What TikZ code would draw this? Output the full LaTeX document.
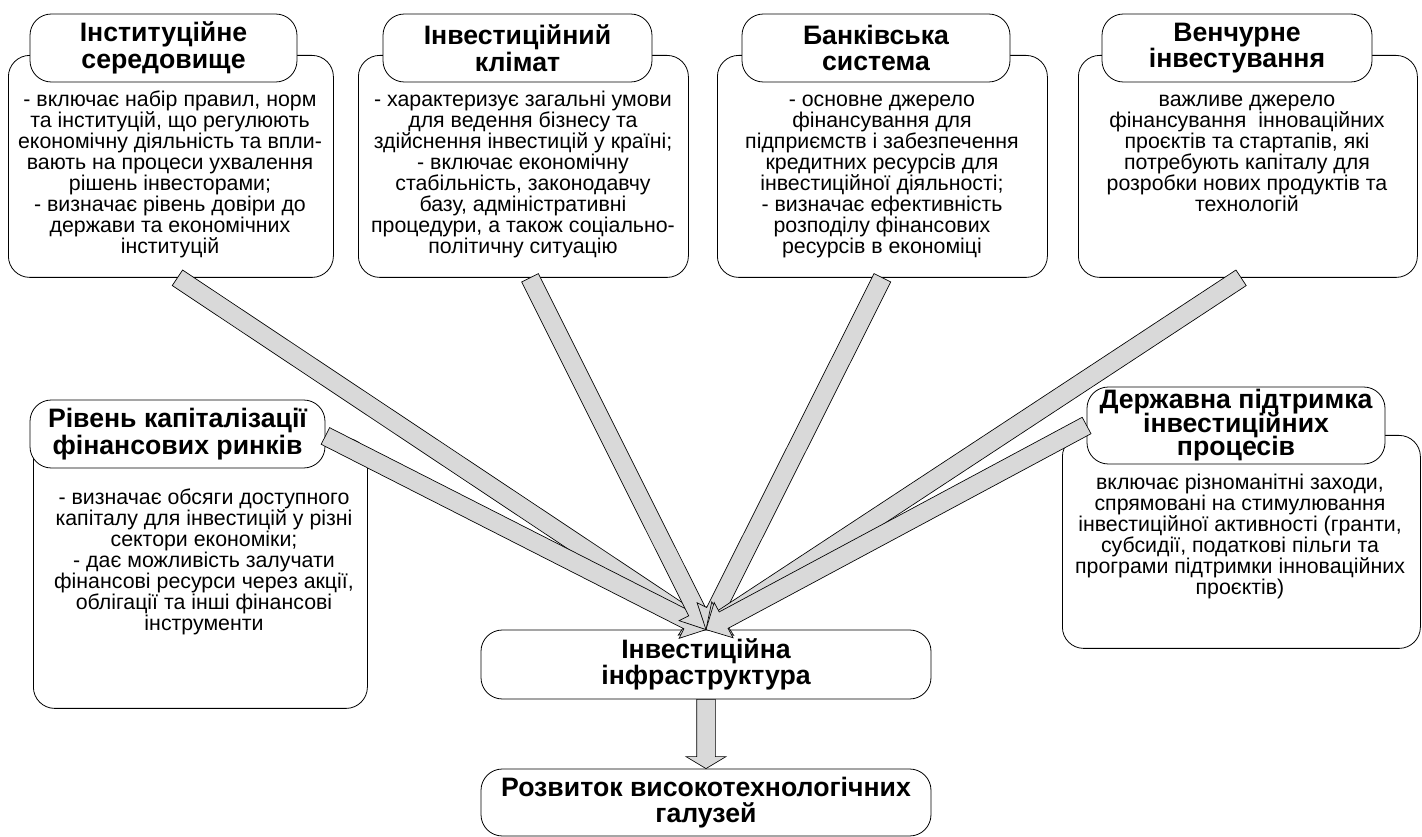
\documentclass[tikz,border=0pt]{standalone}
\usepackage{fontspec}
\setmainfont{Liberation Sans}
\usetikzlibrary{calc,positioning}
\newcommand\titlefont{\fontsize{20}{20}\selectfont\bfseries\lineskiplimit=-8pt\relax}
\newcommand\govfont{\fontsize{20}{17.6}\selectfont\bfseries\lineskiplimit=-8pt\relax}
\newcommand\bodyfont{\fontsize{16}{15.75}\selectfont\lineskiplimit=-8pt\relax}
\newcommand\lnstrut{\rule{0pt}{12pt}}
\tikzset{
  bodybox/.style={draw, rounded corners=16pt, line width=0.6pt, anchor=north west, inner sep=0pt},
  titlebox/.style={draw, fill=white, rounded corners=16pt, line width=0.6pt, inner sep=0pt, font=\titlefont, align=center},
  bodytext/.style={align=center, font=\bodyfont, anchor=north, inner sep=0pt},
  barrow/.style={draw, fill=gray!30, line width=0.5pt, line join=miter},
}
% block arrow: [head length]{name}{from}{to}
\newcommand\blockarrow[4][15pt]{%
  \coordinate (#2h) at ($(#4)!#1!(#3)$);
  \filldraw[barrow] ($(#3)!7pt!90:(#4)$) -- ($(#2h)!7pt!-90:(#3)$) -- ($(#2h)!15pt!-90:(#3)$) -- (#4)
    -- ($(#2h)!15pt!90:(#3)$) -- ($(#2h)!7pt!90:(#3)$) -- ($(#3)!7pt!-90:(#4)$) -- cycle;}
\begin{document}
\begin{tikzpicture}[x=0.75pt, y=-0.75pt]
\useasboundingbox (0,0) rectangle (1422,837);
% top row
\node[bodybox, minimum width=325*0.75pt, minimum height=222*0.75pt] (inst) at (8,55) {};
\node[titlebox, minimum width=267*0.75pt, minimum height=68*0.75pt] (instT) at (163.5,48) {Інституційне\\середовище};
\node[bodytext] (instX) at (170,90) {\lnstrut- включає набір правил, норм\\та інституцій, що регулюють\\економічну діяльність та впли-\\вають на процеси ухвалення\\рішень інвесторами;\\- визначає рівень довіри до\\держави та економічних\\інституцій};
\node[bodybox, minimum width=330*0.75pt, minimum height=222*0.75pt] (clim) at (358,55) {};
\node[titlebox, minimum width=269*0.75pt, minimum height=68*0.75pt] (climT) at (517.5,48) {Інвестиційний\\клімат};
\node[bodytext] (climX) at (523,90) {\lnstrut- характеризує загальні умови\\для ведення бізнесу та\\здійснення інвестицій у країні;\\- включає економічну\\стабільність, законодавчу\\базу, адміністративні\\процедури, а також соціально-\\політичну ситуацію};
\node[bodybox, minimum width=330*0.75pt, minimum height=222*0.75pt] (bank) at (717,55) {};
\node[titlebox, minimum width=268*0.75pt, minimum height=68*0.75pt] (bankT) at (876,48) {Банківська\\система};
\node[bodytext] (bankX) at (882,90) {\lnstrut- основне джерело\\фінансування для\\підприємств і забезпечення\\кредитних ресурсів для\\інвестиційної діяльності;\\- визначає ефективність\\розподілу фінансових\\ресурсів в економіці};
\node[bodybox, minimum width=339*0.75pt, minimum height=222*0.75pt] (vent) at (1078,55) {};
\node[titlebox, minimum width=270*0.75pt, minimum height=68*0.75pt] (ventT) at (1237,48) {Венчурне\\інвестування};
\node[bodytext] (ventX) at (1247,90) {\lnstrut важливе джерело\\фінансування\ \ інноваційних\\проєктів та стартапів, які\\потребують капіталу для\\розробки нових продуктів та\\технологій};
% middle row
\node[bodybox, minimum width=334*0.75pt, minimum height=270*0.75pt] (cap) at (33,438) {};
\node[titlebox, minimum width=295*0.75pt, minimum height=68*0.75pt] (capT) at (177.5,434) {Рівень капіталізації\\фінансових ринків};
\node[bodytext] (capX) at (204,488) {\lnstrut- визначає обсяги доступного\\капіталу для інвестицій у різні\\сектори економіки;\\- дає можливість залучати\\фінансові ресурси через акції,\\облігації та інші фінансові\\інструменти};
\node[bodybox, minimum width=358*0.75pt, minimum height=213*0.75pt] (gov) at (1062,435) {};
\node[titlebox, minimum width=298*0.75pt, minimum height=77*0.75pt, font=\govfont] (govT) at (1236,425.5) {Державна підтримка\\інвестиційних\\процесів};
\node[bodytext] (govX) at (1240,473) {\lnstrut включає різноманітні заходи,\\спрямовані на стимулювання\\інвестиційної активності (гранти,\\субсидії, податкові пільги та\\програми підтримки інноваційних\\проєктів)};
% bottom
\node[titlebox, minimum width=450*0.75pt, minimum height=69*0.75pt] (infra) at (706,664.5) {Інвестиційна\\інфраструктура};
\node[titlebox, minimum width=450*0.75pt, minimum height=67*0.75pt] (dev) at (706,802.5) {Розвиток високотехнологічних\\галузей};
% arrows
\coordinate (t1) at ($(inst.south west)!0.52!(inst.south east)$);
\coordinate (t2) at ($(clim.south west)!0.52!(clim.south east)$);
\coordinate (t3) at ($(bank.south west)!0.5!(bank.south east)$);
\coordinate (t4) at ($(vent.south west)!0.48!(vent.south east)$);
\coordinate (t5) at ($(capT.east)+(0,2)$);
\coordinate (t6) at (govT.west);
\blockarrow{a1}{t1}{infra.north}
\blockarrow{a5}{t5}{infra.north}
\blockarrow{a2}{t2}{infra.north}
\blockarrow{a3}{t3}{infra.north}
\blockarrow{a4}{t4}{infra.north}
\blockarrow{a6}{t6}{infra.north}
\blockarrow[9pt]{a7}{infra.south}{dev.north}
\end{tikzpicture}
\end{document}
